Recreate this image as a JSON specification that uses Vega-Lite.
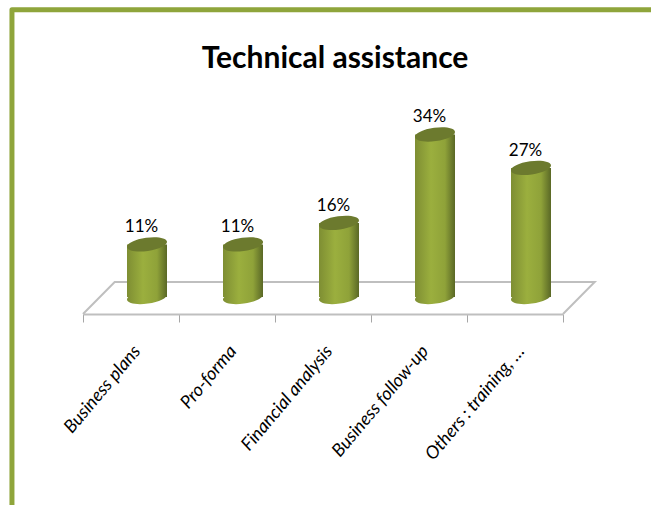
{
"$schema":"https://vega.github.io/schema/vega-lite/v6.json",
"width":480,"height":314,
"padding":{"left":83,"top":0,"right":88,"bottom":191},
"autosize":"none",
"background":"white",
"config":{"view":{"stroke":null}},
"title":{"text":"Technical assistance","font":"Lato","fontWeight":"bold","fontSize":30,"color":"#000000","anchor":"middle","dx":12,"offset":-74},
"datasets":{
"bars":[
{"category":"Business plans","share":11,"label":"11%"},
{"category":"Pro-forma","share":11,"label":"11%"},
{"category":"Financial analysis","share":15.5,"label":"16%"},
{"category":"Business follow-up","share":34,"label":"34%"},
{"category":"Others : training, …","share":27,"label":"27%"}],
"floor":[{"u":0,"v":-3.56,"o":0},{"u":0.33,"v":3.14,"o":1},{"u":5.33,"v":3.14,"o":2},{"u":5,"v":-3.56,"o":3}],
"frame":[{"u":-0.74,"v":-43.5,"o":0},{"u":-0.74,"v":60.1,"o":1},{"u":5.92,"v":60.1,"o":2}]
},
"layer":[
{"data":{"name":"frame"},"mark":{"type":"line","color":"#8FA53B","strokeWidth":5,"clip":false,"strokeJoin":"round"},
"encoding":{"x":{"field":"u","type":"quantitative","scale":{"domain":[0,5]},"axis":null},"y":{"field":"v","type":"quantitative","scale":{"domain":[-3.56,62.13]},"axis":null},"order":{"field":"o"}}},
{"data":{"name":"floor"},"mark":{"type":"line","color":"#BFBFBF","strokeWidth":2,"clip":false},
"encoding":{"x":{"field":"u","type":"quantitative","scale":{"domain":[0,5]},"axis":null},"y":{"field":"v","type":"quantitative","scale":{"domain":[-3.56,62.13]},"axis":null},"order":{"field":"o"}}},
{"data":{"name":"bars"},"mark":{"type":"bar","width":40,"xOffset":16,
"fill":{"gradient":"linear","x1":0,"x2":1,"y1":0,"y2":0,"stops":[{"offset":0,"color":"#7E8E33"},{"offset":0.4,"color":"#9BAF3E"},{"offset":0.75,"color":"#8FA239"},{"offset":1,"color":"#5A6826"}]}},
"encoding":{"x":{"field":"category","type":"nominal","sort":null,"title":null,"scale":{"paddingInner":0,"paddingOuter":0},
"axis":{"bandPosition":0,"tickBand":"extent","domainColor":"#BFBFBF","domainWidth":2,"tickColor":"#A6A6A6","tickWidth":1,"tickSize":8,"labelAngle":-50,"labelAlign":"right","labelBaseline":"middle","labelFont":"Lato","labelFontStyle":"italic","labelFontSize":18,"labelColor":"#000000","labelPadding":26,"labelOffset":6,"labelLimit":0,"grid":false}},
"y":{"field":"share","type":"quantitative","scale":{"domain":[-3.56,62.13]},"axis":null},"y2":{"datum":0}}},
{"data":{"name":"bars"},"mark":{"type":"point","filled":true,"opacity":1,"size":1600,"xOffset":16,"clip":false,"shape":"M-1,0.14 A1,0.33 -8 1 1 1,-0.14 A1,0.33 -8 1 1 -1,0.14Z",
"fill":{"gradient":"linear","x1":0,"x2":1,"y1":0,"y2":0,"stops":[{"offset":0,"color":"#7E8E33"},{"offset":0.4,"color":"#9BAF3E"},{"offset":0.75,"color":"#8FA239"},{"offset":1,"color":"#5A6826"}]}},
"encoding":{"x":{"field":"category","type":"nominal","sort":null,"axis":null,"scale":{"paddingInner":0,"paddingOuter":0}},"y":{"datum":0,"type":"quantitative","scale":{"domain":[-3.56,62.13]},"axis":null}}},
{"data":{"name":"bars"},"mark":{"type":"point","filled":true,"opacity":1,"size":1600,"xOffset":16,"color":"#6C7A2E","shape":"M-1,0.14 A1,0.33 -8 1 1 1,-0.14 A1,0.33 -8 1 1 -1,0.14Z"},
"encoding":{"x":{"field":"category","type":"nominal","sort":null,"axis":null,"scale":{"paddingInner":0,"paddingOuter":0}},"y":{"field":"share","type":"quantitative","scale":{"domain":[-3.56,62.13]},"axis":null}}},
{"data":{"name":"bars"},"mark":{"type":"text","font":"Lato","fontSize":17,"color":"#000000","baseline":"bottom","xOffset":10.5,"yOffset":-8},
"encoding":{"x":{"field":"category","type":"nominal","sort":null,"axis":null,"scale":{"paddingInner":0,"paddingOuter":0}},"y":{"field":"share","type":"quantitative","scale":{"domain":[-3.56,62.13]},"axis":null},"text":{"field":"label"}}}
],
"resolve":{"scale":{"x":"independent"}}
}
